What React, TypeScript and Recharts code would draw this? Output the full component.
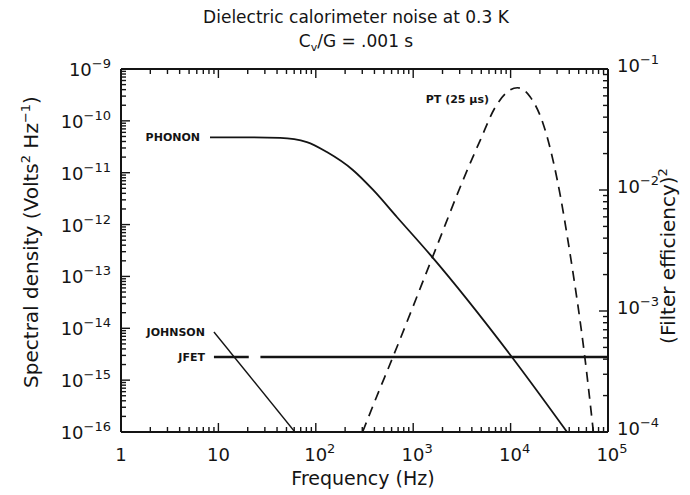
import { Line, LineChart, XAxis, YAxis } from "recharts";

const FONT = '"DejaVu Sans", "Liberation Sans", Arial, sans-serif';
const INK = "#141414";

// decade ticks (labels) and the minor multipliers between them
const xDecades = [1, 10, 100, 1000, 10000, 100000];
const leftDecades = [1e-16, 1e-15, 1e-14, 1e-13, 1e-12, 1e-11, 1e-10, 1e-9];
const rightDecades = [1e-4, 1e-3, 1e-2, 1e-1];
const minorSteps = [2, 3, 4, 5, 6, 7, 8, 9];

// PHONON noise (V^2/Hz)
const phononFreq = [8.2, 20, 43, 81, 130, 240, 390, 680, 1500, 10300, 38000];
const phononPsd = [4.8e-11, 4.8e-11, 4.7e-11, 3.9e-11, 2.5e-11, 1.13e-11, 4.6e-12, 1.4e-12, 2.6e-13, 2.8e-15, 1e-16];

// JOHNSON noise
const johnsonFreq = [9, 61];
const johnsonPsd = [8.5e-15, 1e-16];

// JFET noise (with the small break in the trace)
const jfetFreq = [9, 20.5, 23, 27, 100000];
const jfetPsd = [2.8e-15, 2.8e-15, null, 2.8e-15, 2.8e-15];

// PT (25 µs) filter efficiency squared, right axis
const ptFreq = [302, 457, 550, 1740, 3240, 4900, 6920, 11750, 15850, 21400, 30200, 40700, 57500, 70800];
const ptEff = [1e-4, 2.3e-4, 3.3e-4, 3.4e-3, 1.2e-2, 2.6e-2, 4.8e-2, 7.0e-2, 5.9e-2, 3.6e-2, 1.2e-2, 3.0e-3, 4.3e-4, 1e-4];

const withMinors = (decades: number[]) => {
  const out: number[] = [];
  decades.forEach((d, i) => {
    out.push(d);
    if (i < decades.length - 1) minorSteps.forEach((m) => out.push(d * m));
  });
  return out;
};

const xTicks = withMinors(xDecades);
const leftTicks = withMinors(leftDecades);
const rightTicks = withMinors(rightDecades);

const phononData = phononFreq.map((f, i) => ({ f, v: phononPsd[i] }));
const johnsonData = johnsonFreq.map((f, i) => ({ f, v: johnsonPsd[i] }));
const jfetData = jfetFreq.map((f, i) => ({ f, v: jfetPsd[i] }));
const ptData = ptFreq.map((f, i) => ({ f, v: ptEff[i] }));

const isDecade = (v: number) => {
  const e = Math.log10(v);
  return Math.abs(e - Math.round(e)) < 1e-6;
};

function Pow10({ exp, x, y, anchor }: any) {
  return (
    <text x={x} y={y} textAnchor={anchor} fontSize={18} fontFamily={FONT} fill={INK}>
      10
      <tspan dy={-8} fontSize={13}>
        {exp < 0 ? `\u2212${-exp}` : exp}
      </tspan>
    </text>
  );
}

function BottomTick({ x, y, payload }: any) {
  const v = payload.value;
  const major = isDecade(v);
  const exp = Math.round(Math.log10(v));
  return (
    <g>
      <line x1={x} x2={x} y1={y} y2={y - (major ? 9 : 5)} stroke={INK} strokeWidth={1.4} />
      {major &&
        (exp < 2 ? (
          <text x={x} y={y + 29} textAnchor="middle" fontSize={18} fontFamily={FONT} fill={INK}>
            {exp === 0 ? "1" : "10"}
          </text>
        ) : (
          <Pow10 exp={exp} x={x + 4} y={y + 29} anchor="middle" />
        ))}
    </g>
  );
}

function TopTick({ x, y, payload }: any) {
  const major = isDecade(payload.value);
  return <line x1={x} x2={x} y1={y} y2={y + (major ? 9 : 5)} stroke={INK} strokeWidth={1.4} />;
}

function LeftTick({ x, y, payload }: any) {
  const v = payload.value;
  const major = isDecade(v);
  return (
    <g>
      <line x1={x} x2={x + (major ? 9 : 5)} y1={y} y2={y} stroke={INK} strokeWidth={1.4} />
      {major && <Pow10 exp={Math.round(Math.log10(v))} x={x - 10} y={y + 7} anchor="end" />}
    </g>
  );
}

function RightTick({ x, y, payload }: any) {
  const v = payload.value;
  const major = isDecade(v);
  return (
    <g>
      <line x1={x} x2={x - (major ? 9 : 5)} y1={y} y2={y} stroke={INK} strokeWidth={1.4} />
      {major && <Pow10 exp={Math.round(Math.log10(v))} x={x + 9} y={y + 3} anchor="start" />}
    </g>
  );
}

const seriesLabel = (text: string, at: number, dx: number, dy: number) => (p: any) => {
  if (p.index !== at || p.x == null || p.y == null) return null;
  return (
    <text x={p.x + dx} y={p.y + dy} textAnchor="end" fontSize={11} fontWeight="bold" fontFamily={FONT} fill={INK}>
      {text}
    </text>
  );
};

const overlay = (left: number, top: number, extra: any = {}) => ({
  position: "absolute" as const,
  left,
  top,
  fontFamily: FONT,
  color: INK,
  whiteSpace: "nowrap" as const,
  lineHeight: 1,
  ...extra,
});

const sup = { fontSize: 13, verticalAlign: "super" as const, lineHeight: 0 };

export default function App() {
  return (
    <div style={{ position: "absolute", left: 0, top: 0, width: 690, height: 495, background: "#fff" }}>
      <LineChart width={690} height={495} margin={{ top: 0, right: 0, bottom: 0, left: 0 }}>
        <XAxis
          dataKey="f"
          type="number"
          scale="log"
          domain={[1, 100000]}
          ticks={xTicks}
          interval={0}
          tickSize={0}
          tickMargin={0}
          height={63}
          allowDataOverflow
          axisLine={{ stroke: INK, strokeWidth: 2 }}
          tickLine={false}
          tick={BottomTick}
        />
        <XAxis
          xAxisId="top"
          orientation="top"
          dataKey="f"
          type="number"
          scale="log"
          domain={[1, 100000]}
          ticks={xTicks}
          interval={0}
          tickSize={0}
          tickMargin={0}
          height={69}
          allowDataOverflow
          axisLine={{ stroke: INK, strokeWidth: 2 }}
          tickLine={false}
          tick={TopTick}
        />
        <YAxis
          yAxisId="left"
          type="number"
          scale="log"
          domain={[1e-16, 1e-9]}
          ticks={leftTicks}
          interval={0}
          tickSize={0}
          tickMargin={0}
          width={121}
          allowDataOverflow
          axisLine={{ stroke: INK, strokeWidth: 2 }}
          tickLine={false}
          tick={LeftTick}
        />
        <YAxis
          yAxisId="right"
          orientation="right"
          type="number"
          scale="log"
          domain={[1e-4, 1e-1]}
          ticks={rightTicks}
          interval={0}
          tickSize={0}
          tickMargin={0}
          width={82}
          allowDataOverflow
          axisLine={{ stroke: INK, strokeWidth: 2 }}
          tickLine={false}
          tick={RightTick}
        />
        <Line
          yAxisId="left"
          data={phononData}
          dataKey="v"
          type="monotone"
          stroke={INK}
          strokeWidth={1.8}
          dot={false}
          isAnimationActive={false}
          label={seriesLabel("PHONON", 0, -10, 4)}
        />
        <Line
          yAxisId="left"
          data={johnsonData}
          dataKey="v"
          type="linear"
          stroke={INK}
          strokeWidth={1.4}
          dot={false}
          isAnimationActive={false}
          label={seriesLabel("JOHNSON", 0, -9, 4)}
        />
        <Line
          yAxisId="left"
          data={jfetData}
          dataKey="v"
          type="linear"
          stroke={INK}
          strokeWidth={2.6}
          dot={false}
          connectNulls={false}
          isAnimationActive={false}
          label={seriesLabel("JFET", 0, -9, 4)}
        />
        <Line
          yAxisId="right"
          data={ptData}
          dataKey="v"
          type="monotone"
          stroke={INK}
          strokeWidth={1.7}
          strokeDasharray="10 7"
          dot={false}
          isAnimationActive={false}
          label={seriesLabel("PT (25 \u00b5s)", 6, -6, -5)}
        />
      </LineChart>

      <div style={overlay(356, 9, { transform: "translateX(-50%)", fontSize: 17 })}>
        Dielectric calorimeter noise at 0.3 K
      </div>
      <div style={overlay(356, 33, { transform: "translateX(-50%)", fontSize: 17 })}>
        C<span style={{ fontSize: 11, verticalAlign: "sub", lineHeight: 0 }}>v</span>/G = .001 s
      </div>
      <div style={overlay(31, 242, { transform: "translate(-50%, -50%) rotate(-90deg)", fontSize: 20 })}>
        Spectral density (Volts<span style={sup}>2</span> Hz<span style={sup}>{"\u2212"}1</span>)
      </div>
      <div style={overlay(668, 256, { transform: "translate(-50%, -50%) rotate(-90deg)", fontSize: 20 })}>
        (Filter efficiency)<span style={sup}>2</span>
      </div>
      <div style={overlay(363, 478, { transform: "translate(-50%, -50%)", fontSize: 19 })}>
        Frequency (Hz)
      </div>
    </div>
  );
}
